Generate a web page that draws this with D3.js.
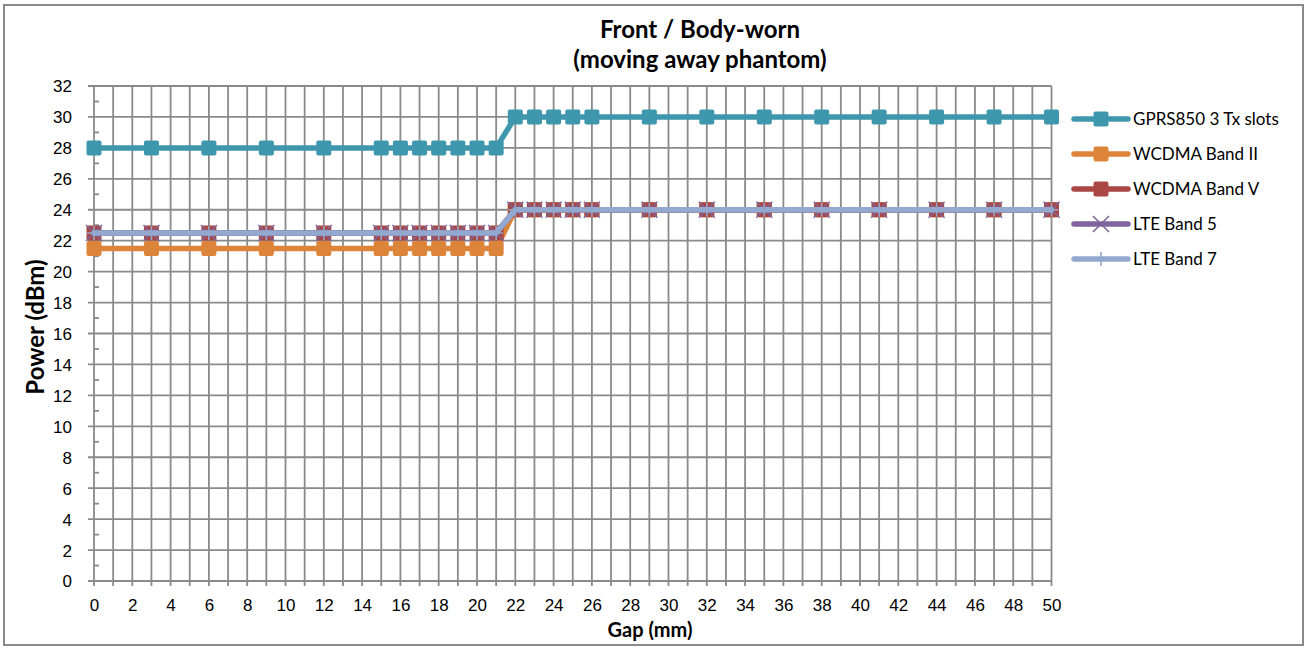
<!DOCTYPE html>
<html>
  <head>
    <meta charset="utf-8">
    <title>Front / Body-worn</title>
    <script src="https://d3js.org/d3.v7.min.js"></script>
    <style>
      body { margin: 0; background: #fff; }
      svg { display: block; font-family: Lato, "Open Sans", sans-serif; }
      .grid line { stroke: #8a8a8a; stroke-width: 1.8; }
      .tick text { font-size: 17px; fill: #000; }
      .axisTitle { font-weight: bold; }
      .legend text { font-size: 17px; }
    </style>
  </head>
  <body>
    <svg id="chart" width="1306" height="646"></svg>
    <script>
      // data
      var gaps = [0, 3, 6, 9, 12, 15, 16, 17, 18, 19, 20, 21, 22, 23, 24, 25, 26, 29, 32, 35, 38, 41, 44, 47, 50];
      var gprs850 = [28, 28, 28, 28, 28, 28, 28, 28, 28, 28, 28, 28, 30, 30, 30, 30, 30, 30, 30, 30, 30, 30, 30, 30, 30];
      var wcdmaBand2 = [21.5, 21.5, 21.5, 21.5, 21.5, 21.5, 21.5, 21.5, 21.5, 21.5, 21.5, 21.5, 24, 24, 24, 24, 24, 24, 24, 24, 24, 24, 24, 24, 24];
      var wcdmaBand5 = [22.5, 22.5, 22.5, 22.5, 22.5, 22.5, 22.5, 22.5, 22.5, 22.5, 22.5, 22.5, 24, 24, 24, 24, 24, 24, 24, 24, 24, 24, 24, 24, 24];
      var lteBand5 = [22.5, 22.5, 22.5, 22.5, 22.5, 22.5, 22.5, 22.5, 22.5, 22.5, 22.5, 22.5, 24, 24, 24, 24, 24, 24, 24, 24, 24, 24, 24, 24, 24];
      var lteBand7 = [22.5, 22.5, 22.5, 22.5, 22.5, 22.5, 22.5, 22.5, 22.5, 22.5, 22.5, 22.5, 24, 24, 24, 24, 24, 24, 24, 24, 24, 24, 24, 24, 24];
      var seriesNames = ["GPRS850 3 Tx slots", "WCDMA Band II", "WCDMA Band V", "LTE Band 5", "LTE Band 7"];
      var yTicks = [0, 2, 4, 6, 8, 10, 12, 14, 16, 18, 20, 22, 24, 26, 28, 30, 32];
      var xTicks = [0, 2, 4, 6, 8, 10, 12, 14, 16, 18, 20, 22, 24, 26, 28, 30, 32, 34, 36, 38, 40, 42, 44, 46, 48, 50];
      var titleLines = ["Front / Body-worn", "(moving away phantom)"];

      var series = [
        { name: seriesNames[0], values: gprs850, colour: "#3f97ae", marker: "square" },
        { name: seriesNames[1], values: wcdmaBand2, colour: "#dd843b", marker: "square" },
        { name: seriesNames[2], values: wcdmaBand5, colour: "#a94744", marker: "square" },
        { name: seriesNames[3], values: lteBand5, colour: "#7f659c", marker: "cross" },
        { name: seriesNames[4], values: lteBand7, colour: "#93a9cf", marker: "plus" }
      ];

      var svg = d3.select("#chart");
      var plot = { left: 94, right: 1051.5, top: 86, bottom: 581 };

      var x = d3.scaleLinear().domain([0, 50]).range([plot.left, plot.right]);
      var y = d3.scaleLinear().domain([0, 32]).range([plot.bottom, plot.top]);

      // outer frame
      svg.append("rect")
        .attr("x", 4).attr("y", 5)
        .attr("width", 1299).attr("height", 640)
        .attr("fill", "none")
        .attr("stroke", "#8a8a8a")
        .attr("stroke-width", 2);

      // grid: vertical lines every 1 mm, horizontal every 2 dBm
      var grid = svg.append("g").classed("grid", true);
      grid.selectAll(".v")
        .data(d3.range(0, 51))
        .enter().append("line")
          .attr("x1", function(d) { return x(d); })
          .attr("x2", function(d) { return x(d); })
          .attr("y1", plot.top)
          .attr("y2", plot.bottom + 5);
      grid.selectAll(".h")
        .data(yTicks)
        .enter().append("line")
          .attr("x1", plot.left - 6)
          .attr("x2", plot.right)
          .attr("y1", function(d) { return y(d); })
          .attr("y2", function(d) { return y(d); });
      // minor ticks on the value axis
      grid.selectAll(".m")
        .data(d3.range(1, 32, 2))
        .enter().append("line")
          .attr("x1", plot.left)
          .attr("x2", plot.left + 5)
          .attr("y1", function(d) { return y(d); })
          .attr("y2", function(d) { return y(d); });

      // tick labels via axes
      var yAxis = d3.axisLeft(y).tickValues(yTicks).tickSize(0).tickPadding(22);
      svg.append("g")
        .attr("transform", "translate(" + plot.left + ",0)")
        .call(yAxis)
        .call(function(g) { g.select(".domain").remove(); })
        .selectAll("text").attr("font-family", null).attr("font-size", null).attr("dy", "0.35em");
      var xAxis = d3.axisBottom(x).tickValues(xTicks).tickSize(0).tickPadding(18);
      svg.append("g")
        .attr("transform", "translate(0," + plot.bottom + ")")
        .call(xAxis)
        .call(function(g) { g.select(".domain").remove(); })
        .selectAll("text").attr("font-family", null).attr("font-size", null);

      // titles
      svg.append("text")
        .attr("class", "axisTitle")
        .attr("x", 650).attr("y", 637)
        .attr("text-anchor", "middle")
        .attr("font-size", "20px")
        .text("Gap (mm)");
      svg.append("text")
        .attr("class", "axisTitle")
        .attr("transform", "translate(44,327) rotate(-90)")
        .attr("text-anchor", "middle")
        .attr("font-size", "24px")
        .text("Power (dBm)");
      svg.selectAll(".title")
        .data(titleLines)
        .enter().append("text")
          .attr("x", 700)
          .attr("y", function(d, i) { return 38 + i * 30; })
          .attr("text-anchor", "middle")
          .attr("font-size", "24px")
          .attr("font-weight", "bold")
          .text(function(d) { return d; });

      function drawMarker(g, type, colour) {
        if (type == "square") {
          g.append("rect")
            .attr("x", -7.5).attr("y", -7.5)
            .attr("width", 15).attr("height", 15)
            .attr("rx", 2)
            .attr("fill", colour);
        } else if (type == "cross") {
          g.append("path")
            .attr("d", "M-8,-8L8,8M-8,8L8,-8")
            .attr("stroke", colour)
            .attr("stroke-width", 1.6)
            .attr("fill", "none");
        } else {
          g.append("path")
            .attr("d", "M-7,0L7,0M0,-7L0,7")
            .attr("stroke", colour)
            .attr("stroke-width", 1.6)
            .attr("fill", "none");
        }
      }

      var line = d3.line()
        .x(function(d) { return x(d[0]); })
        .y(function(d) { return y(d[1]); });

      series.forEach(function(s) {
        var pts = gaps.map(function(g, i) { return [g, s.values[i]]; });
        var sg = svg.append("g");
        sg.append("path")
          .datum(pts)
          .attr("d", line)
          .attr("fill", "none")
          .attr("stroke", s.colour)
          .attr("stroke-width", 5.5)
          .attr("stroke-linejoin", "round")
          .attr("stroke-linecap", "round");
        sg.selectAll(".pt")
          .data(pts)
          .enter().append("g")
            .attr("transform", function(d) { return "translate(" + x(d[0]) + "," + y(d[1]) + ")"; })
            .each(function() { drawMarker(d3.select(this), s.marker, s.colour); });
      });

      // legend
      var legend = svg.append("g").classed("legend", true);
      series.forEach(function(s, i) {
        var row = legend.append("g")
          .attr("transform", "translate(1074," + (119 + i * 35) + ")");
        row.append("line")
          .attr("x1", 0).attr("x2", 54)
          .attr("stroke", s.colour)
          .attr("stroke-width", 5.5)
          .attr("stroke-linecap", "round");
        drawMarker(row.append("g").attr("transform", "translate(27,0)"), s.marker, s.colour);
        row.append("text")
          .attr("x", 59)
          .attr("dy", "0.35em")
          .text(s.name);
      });
    </script>
  </body>
</html>
